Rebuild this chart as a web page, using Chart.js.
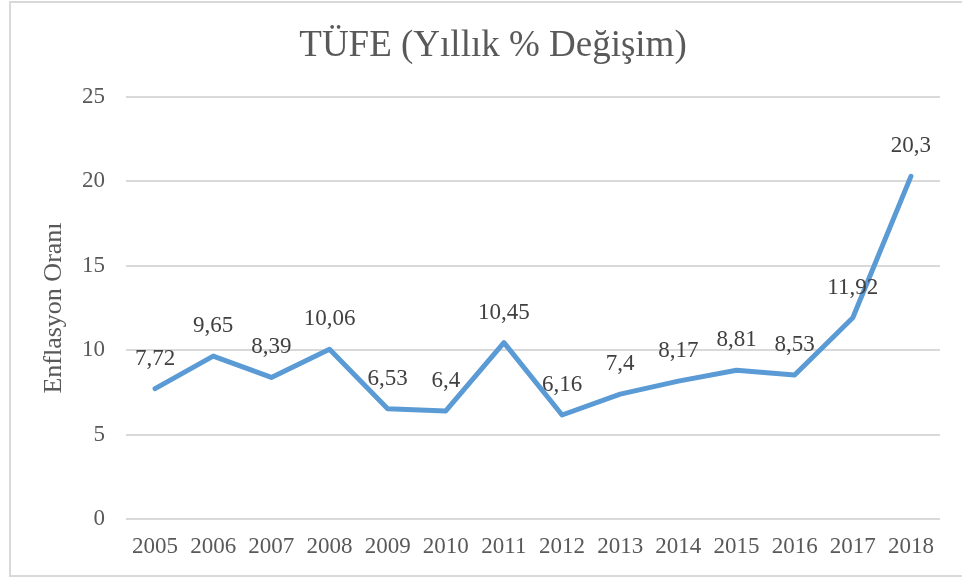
<!DOCTYPE html>
<html lang="tr">
<head>
<meta charset="utf-8">
<title>TÜFE</title>
<script src="https://cdn.jsdelivr.net/npm/chart.js@4.4.0/dist/chart.umd.min.js"></script>
<style>
  html, body { margin: 0; padding: 0; background: #fff; }
  #wrap { width: 962px; height: 578px; }
</style>
</head>
<body>
<div id="wrap"><canvas id="tufeChart" width="962" height="578"></canvas></div>
<script>
// data
const years = ["2005", "2006", "2007", "2008", "2009", "2010", "2011", "2012", "2013", "2014", "2015", "2016", "2017", "2018"];
const tufe = [7.72, 9.65, 8.39, 10.06, 6.53, 6.4, 10.45, 6.16, 7.4, 8.17, 8.81, 8.53, 11.92, 20.3];
const yMin = 0;
const yMax = 25;
const yStep = 5;

const serif = "'Liberation Serif', 'Times New Roman', 'DejaVu Serif', serif";

// grey frame around the whole chart, like the Excel chart area
const framePlugin = {
  id: "frame",
  beforeDraw(chart) {
    const ctx = chart.ctx;
    ctx.save();
    ctx.fillStyle = "#ffffff";
    ctx.fillRect(0, 0, chart.width, chart.height);
    ctx.strokeStyle = "#d9d9d9";
    ctx.lineWidth = 2;
    ctx.strokeRect(10, 2, 1000, 574);
    ctx.restore();
  }
};

// title drawn by hand so the plot area stays where it is in the reference
const titlePlugin = {
  id: "bigTitle",
  afterDraw(chart) {
    const ctx = chart.ctx;
    ctx.save();
    ctx.font = "37px " + serif;
    ctx.fillStyle = "#595959";
    ctx.textAlign = "center";
    ctx.textBaseline = "middle";
    ctx.fillText("TÜFE (Yıllık % Değişim)", 493, 46);
    ctx.restore();
  }
};

// value labels above each point, with a decimal comma
const labelPlugin = {
  id: "valueLabels",
  afterDatasetsDraw(chart) {
    const ctx = chart.ctx;
    const meta = chart.getDatasetMeta(0);
    ctx.save();
    ctx.font = "23px " + serif;
    ctx.fillStyle = "#404040";
    ctx.textAlign = "center";
    ctx.textBaseline = "middle";
    meta.data.forEach((pt, i) => {
      const txt = String(tufe[i]).replace(".", ",");
      ctx.fillText(txt, pt.x, pt.y - 30);
    });
    ctx.restore();
  }
};

const ctx = document.getElementById("tufeChart").getContext("2d");

new Chart(ctx, {
  type: "line",
  data: {
    labels: years,
    datasets: [{
      label: "TÜFE",
      data: tufe,
      borderColor: "#5b9bd5",
      borderWidth: 5,
      borderCapStyle: "round",
      borderJoinStyle: "round",
      pointRadius: 0,
      tension: 0,
      fill: false
    }]
  },
  options: {
    responsive: false,
    devicePixelRatio: 1,
    animation: false,
    layout: { padding: { top: 97, right: 22, left: 0, bottom: 0 } },
    plugins: {
      legend: { display: false },
      title: { display: false },
      tooltip: { enabled: false }
    },
    scales: {
      x: {
        offset: true,
        grid: { display: false, drawTicks: false },
        border: { display: false },
        ticks: {
          color: "#595959",
          font: { family: serif, size: 23 },
          padding: 14,
          maxRotation: 0,
          autoSkip: false
        },
        afterFit(scale) { scale.height = 59; }
      },
      y: {
        min: yMin,
        max: yMax,
        grid: { color: "#d9d9d9", lineWidth: 2, drawTicks: false },
        border: { display: false },
        ticks: {
          stepSize: yStep,
          color: "#595959",
          font: { family: serif, size: 23 },
          padding: 21
        },
        title: {
          display: true,
          text: "Enflasyon Oranı",
          color: "#595959",
          font: { family: serif, size: 26 },
          padding: { top: 39, bottom: 0 }
        },
        afterFit(scale) { scale.width = 126; }
      }
    }
  },
  plugins: [framePlugin, titlePlugin, labelPlugin]
});
</script>
</body>
</html>
